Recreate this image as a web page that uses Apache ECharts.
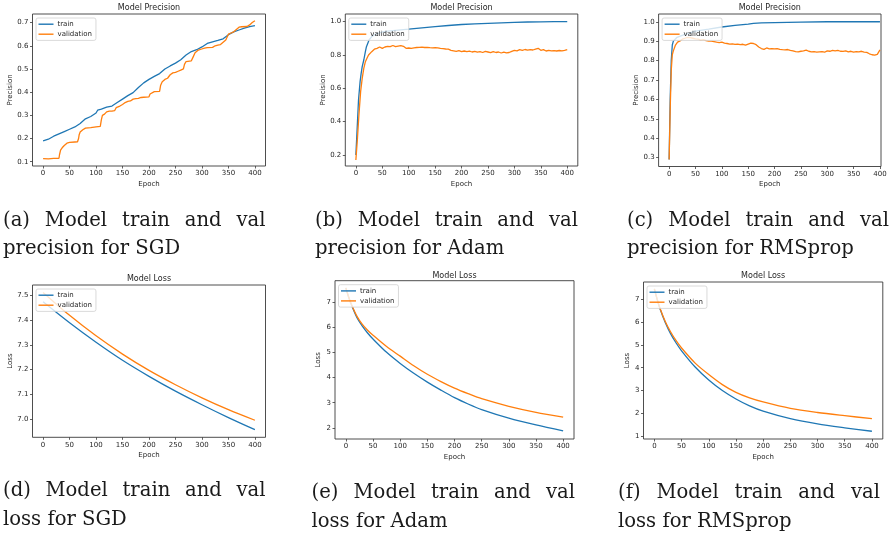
<!DOCTYPE html>
<html><head><meta charset="utf-8">
<script src="https://cdn.jsdelivr.net/npm/echarts@6/dist/echarts.min.js"></script>
<style>html,body{margin:0;padding:0;background:#fff}#c{width:891px;height:537px}</style>
</head><body><div id="c"></div>
<script>
// ---------------- data ----------------
const epochTicks = [0, 50, 100, 150, 200, 250, 300, 350, 400];
const sgdPrecTicks = [0.1, 0.2, 0.3, 0.4, 0.5, 0.6, 0.7];
const adamPrecTicks = [0.2, 0.4, 0.6, 0.8, 1.0];
const rmsPrecTicks = [0.3, 0.4, 0.5, 0.6, 0.7, 0.8, 0.9, 1.0];
const sgdLossTicks = [7.0, 7.1, 7.2, 7.3, 7.4, 7.5];
const adamLossTicks = [2, 3, 4, 5, 6, 7];
const rmsLossTicks = [1, 2, 3, 4, 5, 6, 7];

// (a) SGD precision
const sgdPrecTrainEpochs = [0,10,20,30,40,50,60,70,80,90,100,103,110,120,130,140,150,160,170,180,190,200,210,220,230,240,250,260,270,280,290,300,310,320,330,340,350,360,370,380,390,400];
const sgdPrecTrain = [0.19,0.197,0.21,0.22,0.23,0.24,0.25,0.265,0.285,0.295,0.31,0.322,0.327,0.335,0.34,0.355,0.37,0.385,0.398,0.42,0.44,0.455,0.468,0.48,0.5,0.513,0.525,0.54,0.56,0.575,0.583,0.595,0.61,0.617,0.623,0.63,0.648,0.66,0.668,0.676,0.683,0.687];
const sgdPrecValEpochs = [0,10,20,30,31,33,36,40,45,50,60,65,67,68,70,72,75,80,90,100,108,110,112,116,120,125,130,135,138,140,145,150,155,160,165,170,175,180,185,190,200,202,205,210,220,222,225,230,235,240,245,250,255,260,265,267,270,280,283,287,292,298,305,310,320,325,330,335,340,345,350,355,360,365,370,375,385,390,395,400];
const sgdPrecVal = [0.113,0.112,0.114,0.115,0.13,0.15,0.16,0.17,0.18,0.183,0.185,0.186,0.2,0.215,0.228,0.232,0.238,0.245,0.247,0.25,0.252,0.28,0.3,0.305,0.315,0.318,0.318,0.32,0.333,0.335,0.34,0.347,0.355,0.36,0.362,0.37,0.372,0.373,0.377,0.378,0.38,0.392,0.4,0.402,0.403,0.43,0.445,0.455,0.46,0.475,0.483,0.485,0.49,0.495,0.5,0.52,0.532,0.535,0.55,0.57,0.58,0.585,0.59,0.592,0.593,0.6,0.603,0.605,0.615,0.625,0.65,0.655,0.66,0.67,0.68,0.682,0.683,0.69,0.7,0.708];

// (b) Adam precision
const adamPrecTrainEpochs = [0,2,5,8,10,12,15,18,20,25,30,35,40,50,60,75,100,125,150,175,200,225,250,275,300,325,350,375,400];
const adamPrecTrain = [0.2,0.33,0.53,0.64,0.69,0.73,0.77,0.82,0.85,0.89,0.91,0.92,0.928,0.938,0.943,0.948,0.955,0.963,0.97,0.977,0.983,0.987,0.99,0.993,0.996,0.998,0.999,1.0,1.0];
const adamPrecValEpochs = [0,3,6,9,12,15,18,21,24,27,30,35,40,45,50,55,60,65,70,75,80,85,90,95,100,105,110,115,120,125,130,135,140,145,150,155,160,165,170,175,180,185,190,195,200,205,210,215,220,225,230,235,240,245,250,255,260,265,270,275,280,285,290,295,300,305,310,315,320,325,330,335,340,345,350,355,360,365,370,375,380,385,390,395,400];
const adamPrecVal = [0.17,0.3,0.45,0.58,0.66,0.72,0.76,0.78,0.8,0.81,0.82,0.835,0.84,0.848,0.84,0.848,0.852,0.85,0.857,0.85,0.853,0.856,0.852,0.84,0.842,0.84,0.843,0.845,0.846,0.847,0.845,0.846,0.844,0.843,0.844,0.843,0.84,0.838,0.836,0.835,0.828,0.825,0.822,0.826,0.82,0.824,0.82,0.823,0.818,0.822,0.817,0.82,0.815,0.822,0.818,0.814,0.82,0.815,0.818,0.812,0.817,0.813,0.815,0.822,0.828,0.825,0.832,0.828,0.833,0.829,0.832,0.83,0.835,0.84,0.828,0.832,0.824,0.828,0.825,0.826,0.824,0.827,0.825,0.828,0.832];

// (c) RMSprop precision
const rmsPrecTrainEpochs = [0,2,4,6,8,10,15,20,30,40,50,75,100,125,150,160,175,200,250,300,350,400];
const rmsPrecTrain = [0.29,0.6,0.8,0.88,0.9,0.91,0.92,0.925,0.935,0.943,0.952,0.962,0.973,0.981,0.988,0.992,0.994,0.996,0.998,1.0,1.0,1.0];
const rmsPrecValEpochs = [0,2,4,6,8,10,12,14,16,18,20,25,30,35,40,45,50,55,60,65,70,75,80,85,90,95,100,105,110,115,120,125,130,135,140,145,150,155,160,165,170,175,180,185,190,195,200,205,210,215,220,225,230,235,240,245,250,255,260,265,270,275,280,285,290,295,300,305,310,315,320,325,330,335,340,345,350,355,360,365,370,375,380,385,390,395,400];
const rmsPrecVal = [0.29,0.55,0.75,0.83,0.85,0.86,0.88,0.89,0.895,0.89,0.9,0.91,0.915,0.92,0.918,0.915,0.912,0.91,0.905,0.908,0.903,0.9,0.9,0.898,0.895,0.893,0.895,0.89,0.888,0.885,0.886,0.883,0.885,0.882,0.884,0.88,0.885,0.89,0.888,0.882,0.87,0.862,0.858,0.865,0.86,0.862,0.86,0.862,0.858,0.856,0.855,0.857,0.853,0.85,0.846,0.845,0.848,0.85,0.854,0.848,0.845,0.846,0.844,0.845,0.846,0.843,0.85,0.848,0.852,0.85,0.853,0.848,0.847,0.85,0.845,0.848,0.844,0.846,0.845,0.848,0.844,0.842,0.835,0.83,0.828,0.832,0.855];

// (d) SGD loss
const sgdLossEpochs = [0,50,100,150,200,250,300,350,400];
const sgdLossTrain = [7.475,7.39,7.311,7.238,7.173,7.113,7.058,7.006,6.957];
const sgdLossVal = [7.513,7.42,7.337,7.263,7.197,7.139,7.086,7.038,6.995];

// (e) Adam loss
const adamLossEpochs = [0,5,10,20,30,40,50,75,100,125,150,175,200,225,250,300,350,400];
const adamLossTrain = [7.56,7.2,6.9,6.4,6.05,5.77,5.53,5.0,4.56,4.17,3.82,3.5,3.2,2.95,2.73,2.39,2.12,1.885];
const adamLossVal = [7.56,7.21,6.92,6.45,6.12,5.88,5.68,5.23,4.85,4.47,4.13,3.84,3.58,3.36,3.16,2.86,2.62,2.43];

// (f) RMSprop loss
const rmsLossEpochs = [0,5,10,20,30,40,50,75,100,125,150,175,200,250,300,350,400];
const rmsLossTrain = [7.45,7.0,6.6,5.98,5.48,5.08,4.74,4.03,3.46,3.0,2.63,2.33,2.1,1.77,1.54,1.37,1.22];
const rmsLossVal = [7.45,7.01,6.62,6.02,5.56,5.18,4.86,4.2,3.7,3.26,2.92,2.68,2.5,2.22,2.04,1.9,1.77];

// ---------------- layout / style ----------------
const SANS = '"DejaVu Sans", sans-serif';
const SERIF = '"DejaVu Serif", serif';
const BLUE = '#1f77b4', ORANGE = '#ff7f0e', TXT = '#262626', FRAME = '#3a3a3a';

const panels = [
  { title: 'Model Precision', yName: 'Precision', grid: {left: 32.5, top: 14, width: 233, height: 152}, xMax: 420, yMin: 0.0815, yMax: 0.737, yTicks: sgdPrecTicks, dec: 1, yGap: 18,
    train: [sgdPrecTrainEpochs, sgdPrecTrain], val: [sgdPrecValEpochs, sgdPrecVal], smooth: false, titleY: 7.5 },
  { title: 'Model Precision', yName: 'Precision', grid: {left: 345.3, top: 14, width: 232.5, height: 152}, xMax: 420, yMin: 0.134, yMax: 1.046, yTicks: adamPrecTicks, dec: 1, yGap: 18,
    train: [adamPrecTrainEpochs, adamPrecTrain], val: [adamPrecValEpochs, adamPrecVal], smooth: false, titleY: 7.5 },
  { title: 'Model Precision', yName: 'Precision', grid: {left: 658.6, top: 14, width: 222.4, height: 152.5}, xMax: 402, yMin: 0.254, yMax: 1.04, yTicks: rmsPrecTicks, dec: 1, yGap: 18,
    train: [rmsPrecTrainEpochs, rmsPrecTrain], val: [rmsPrecValEpochs, rmsPrecVal], smooth: false, titleY: 7.5 },
  { title: 'Model Loss', yName: 'Loss', grid: {left: 32.5, top: 285, width: 233, height: 152.3}, xMax: 420, yMin: 6.926, yMax: 7.543, yTicks: sgdLossTicks, dec: 1, yGap: 18,
    train: [sgdLossEpochs, sgdLossTrain], val: [sgdLossEpochs, sgdLossVal], smooth: true, titleY: 278.5 },
  { title: 'Model Loss', yName: 'Loss', grid: {left: 335, top: 280.7, width: 239, height: 158.3}, xMax: 420, yMin: 1.56, yMax: 7.845, yTicks: adamLossTicks, dec: 0, yGap: 13,
    train: [adamLossEpochs, adamLossTrain], val: [adamLossEpochs, adamLossVal], smooth: true, titleY: 276 },
  { title: 'Model Loss', yName: 'Loss', grid: {left: 643.5, top: 282, width: 239.3, height: 157}, xMax: 420, yMin: 0.88, yMax: 7.75, yTicks: rmsLossTicks, dec: 0, yGap: 13,
    train: [rmsLossEpochs, rmsLossTrain], val: [rmsLossEpochs, rmsLossVal], smooth: true, titleY: 276 }
];

const captions = [
  { l1: ['(a)', 'Model', 'train', 'and', 'val'], l2: 'precision for SGD', x0: 3, x1: 265.5, y1: 227.5, y2: 256 },
  { l1: ['(b)', 'Model', 'train', 'and', 'val'], l2: 'precision for Adam', x0: 315, x1: 578, y1: 227.5, y2: 256 },
  { l1: ['(c)', 'Model', 'train', 'and', 'val'], l2: 'precision for RMSprop', x0: 627, x1: 889, y1: 227.5, y2: 256 },
  { l1: ['(d)', 'Model', 'train', 'and', 'val'], l2: 'loss for SGD', x0: 3, x1: 265.5, y1: 498, y2: 526.5 },
  { l1: ['(e)', 'Model', 'train', 'and', 'val'], l2: 'loss for Adam', x0: 311.5, x1: 575, y1: 500, y2: 528.5 },
  { l1: ['(f)', 'Model', 'train', 'and', 'val'], l2: 'loss for RMSprop', x0: 618, x1: 880, y1: 500, y2: 528.5 }
];

const zip = (xs, ys) => xs.map((x, i) => [x, ys[i]]);

const axisFont = { fontSize: 7, fontFamily: SANS, color: TXT };
const option = {
  animation: false,
  backgroundColor: '#fff',
  grid: [], xAxis: [], yAxis: [], series: [], legend: [], graphic: []
};

panels.forEach((p, i) => {
  option.grid.push(Object.assign({ show: true, borderColor: FRAME, borderWidth: 0.9, backgroundColor: 'transparent', containLabel: false }, p.grid));
  option.xAxis.push({
    type: 'value', gridIndex: i, min: -20, max: p.xMax, position: 'bottom',
    axisLine: { show: false, onZero: false }, splitLine: { show: false },
    axisTick: { show: true, length: 2.5, customValues: epochTicks, lineStyle: { color: FRAME, width: 0.8 } },
    axisLabel: { customValues: epochTicks, margin: 4, ...axisFont },
    name: 'Epoch', nameLocation: 'middle', nameGap: 14.5, nameTextStyle: axisFont
  });
  option.yAxis.push({
    type: 'value', gridIndex: i, min: p.yMin, max: p.yMax, position: 'left',
    axisLine: { show: false, onZero: false }, splitLine: { show: false },
    axisTick: { show: true, length: 2.5, customValues: p.yTicks, lineStyle: { color: FRAME, width: 0.8 } },
    axisLabel: { customValues: p.yTicks, margin: 4, formatter: v => Number(v).toFixed(p.dec), ...axisFont },
    name: p.yName, nameLocation: 'middle', nameGap: p.yGap, nameTextStyle: axisFont
  });
  const common = { type: 'line', xAxisIndex: i, yAxisIndex: i, showSymbol: false, symbol: 'none', clip: true,
    smooth: p.smooth ? 0.3 : false, z: 2 };
  option.series.push(Object.assign({}, common, { name: 'train', data: zip(p.train[0], p.train[1]), color: BLUE, lineStyle: { color: BLUE, width: 1.3 } }));
  option.series.push(Object.assign({}, common, { name: 'validation', data: zip(p.val[0], p.val[1]), color: ORANGE, lineStyle: { color: ORANGE, width: 1.3 } }));
  option.legend.push({
    orient: 'vertical', left: p.grid.left + 3.5, top: p.grid.top + 4,
    data: ['train', 'validation'], icon: 'rect', itemWidth: 15, itemHeight: 1.4, itemGap: 1.6,
    padding: [2, 4, 2, 2.5], backgroundColor: 'rgba(255,255,255,0.8)', borderColor: '#d0d0d0', borderWidth: 0.8, borderRadius: 2,
    selectedMode: false, textStyle: { fontSize: 7, fontFamily: SANS, color: TXT, lineHeight: 8.4, padding: [0, 0, 0, -1] }
  });
  option.graphic.push({ type: 'text', x: p.grid.left + p.grid.width / 2, y: p.titleY, silent: true,
    style: { text: p.title, font: '8px ' + SANS, fill: TXT, align: 'center', verticalAlign: 'middle' } });
});

// captions: first line justified between x0 and x1 (LaTeX style)
const CAP_SIZE = 19.6;
const capFont = CAP_SIZE + 'px ' + SERIF;
const mctx = document.createElement('canvas').getContext('2d');
mctx.font = capFont;
const baseShift = CAP_SIZE * 0.35;
captions.forEach(c => {
  const widths = c.l1.map(w => mctx.measureText(w).width);
  const total = widths.reduce((a, b) => a + b, 0);
  const gap = (c.x1 - c.x0 - total) / (c.l1.length - 1);
  let x = c.x0;
  c.l1.forEach((w, k) => {
    option.graphic.push({ type: 'text', x: x, y: c.y1 - baseShift, silent: true,
      style: { text: w, font: capFont, fill: '#1a1a1a', align: 'left', verticalAlign: 'middle' } });
    x += widths[k] + gap;
  });
  option.graphic.push({ type: 'text', x: c.x0, y: c.y2 - baseShift, silent: true,
    style: { text: c.l2, font: capFont, fill: '#1a1a1a', align: 'left', verticalAlign: 'middle' } });
});

const chart = echarts.init(document.getElementById('c'), null, { renderer: 'canvas', width: 891, height: 537 });
chart.setOption(option);
</script>
</body></html>
